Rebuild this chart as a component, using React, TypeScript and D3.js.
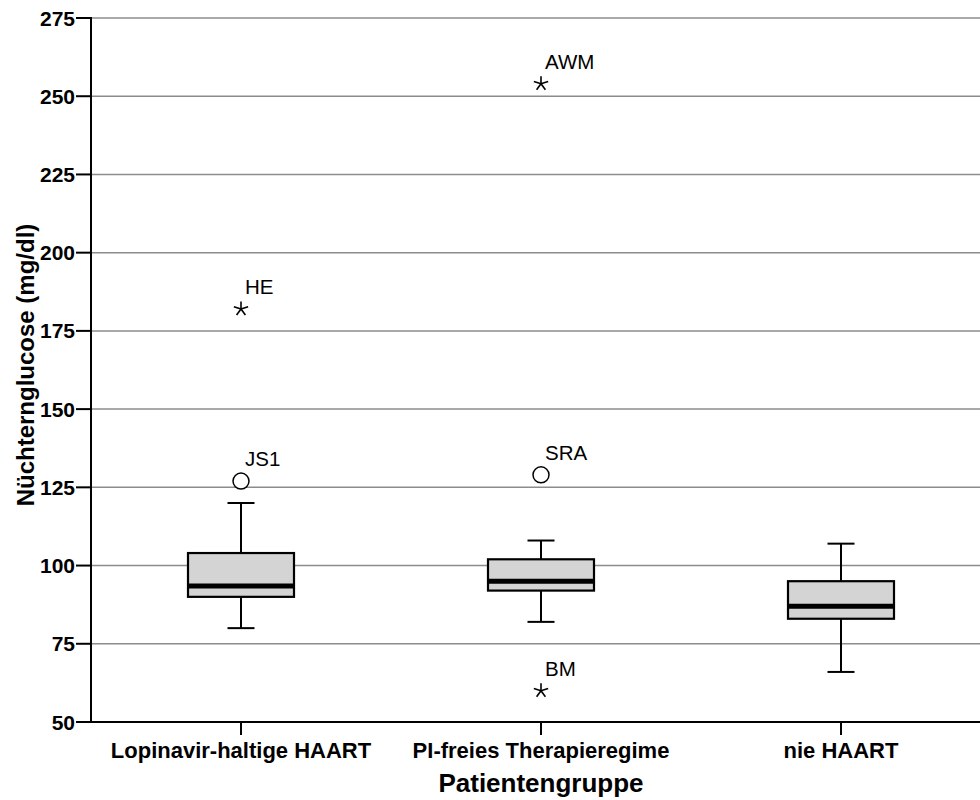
import React from "react";
import * as d3 from "d3";

const categories = ["Lopinavir-haltige HAART", "PI-freies Therapieregime", "nie HAART"];
const whiskerLow = [80, 82, 66];
const q1 = [90, 92, 83];
const median = [93.5, 95, 87];
const q3 = [104, 102, 95];
const whiskerHigh = [120, 108, 107];

// outliers: category index, value, kind, label
const outlierCat = [0, 0, 1, 1, 1];
const outlierValue = [182, 127, 254, 129, 60];
const outlierKind = ["extreme", "outlier", "extreme", "outlier", "extreme"];
const outlierLabel = ["HE", "JS1", "AWM", "SRA", "BM"];

const yTicks = [50, 75, 100, 125, 150, 175, 200, 225, 250, 275];

const W = 980;
const H = 800;
const left = 91;
const top = 18;
const bottom = 722;
const right = 991;

const FONT = "'Liberation Sans', Arial, Helvetica, sans-serif";

function Star({ cx, cy, r }: { cx: number; cy: number; r: number }) {
  const arms = d3.range(5).map((i) => -Math.PI / 2 + (i * 2 * Math.PI) / 5);
  return (
    <g>
      {arms.map((a, i) => (
        <line
          key={i}
          x1={cx}
          y1={cy}
          x2={cx + r * Math.cos(a)}
          y2={cy + r * Math.sin(a)}
          stroke="#000"
          strokeWidth={1.6}
        />
      ))}
    </g>
  );
}

export default function App() {
  const y = d3.scaleLinear().domain([50, 275]).range([bottom, top]);
  const x = d3.scaleBand().domain(categories).range([left, right]);
  const cx = (i: number) => (x(categories[i]) as number) + x.bandwidth() / 2;
  const boxW = 106;
  const capW = 27;

  return (
    <svg
      width={W}
      height={H}
      style={{ position: "absolute", left: 0, top: 0, background: "#fff" }}
      fontFamily={FONT}
    >
      {/* gridlines */}
      {yTicks
        .filter((t) => t !== 50)
        .map((t) => (
          <line key={t} x1={left} x2={W} y1={y(t)} y2={y(t)} stroke="#8c8c8c" strokeWidth={1.5} />
        ))}

      {/* boxes */}
      {categories.map((c, i) => {
        const xc = cx(i);
        return (
          <g key={c}>
            <line x1={xc} x2={xc} y1={y(whiskerHigh[i])} y2={y(q3[i])} stroke="#000" strokeWidth={2} />
            <line x1={xc} x2={xc} y1={y(q1[i])} y2={y(whiskerLow[i])} stroke="#000" strokeWidth={2} />
            <line x1={xc - capW / 2} x2={xc + capW / 2} y1={y(whiskerHigh[i])} y2={y(whiskerHigh[i])} stroke="#000" strokeWidth={2} />
            <line x1={xc - capW / 2} x2={xc + capW / 2} y1={y(whiskerLow[i])} y2={y(whiskerLow[i])} stroke="#000" strokeWidth={2} />
            <rect
              x={xc - boxW / 2}
              y={y(q3[i])}
              width={boxW}
              height={y(q1[i]) - y(q3[i])}
              fill="#d4d4d4"
              stroke="#000"
              strokeWidth={2.2}
            />
            <line x1={xc - boxW / 2} x2={xc + boxW / 2} y1={y(median[i])} y2={y(median[i])} stroke="#000" strokeWidth={5} />
          </g>
        );
      })}

      {/* outliers */}
      {outlierValue.map((v, k) => {
        const xc = cx(outlierCat[k]);
        const yy = y(v);
        return (
          <g key={k}>
            {outlierKind[k] === "extreme" ? (
              <Star cx={xc} cy={yy} r={7.5} />
            ) : (
              <circle cx={xc} cy={yy} r={8} fill="#fff" stroke="#000" strokeWidth={1.5} />
            )}
            <text x={xc + 4} y={yy - 15} fontSize={20.5} fill="#000">
              {outlierLabel[k]}
            </text>
          </g>
        );
      })}

      {/* y axis */}
      <line x1={left} x2={left} y1={top - 1} y2={bottom + 1} stroke="#000" strokeWidth={2} />
      {yTicks.map((t) => (
        <g key={t}>
          <line x1={76} x2={left} y1={y(t)} y2={y(t)} stroke="#000" strokeWidth={2} />
          <text x={75} y={y(t)} dy="0.36em" textAnchor="end" fontSize={21} fontWeight="bold">
            {t}
          </text>
        </g>
      ))}

      {/* x axis */}
      <line x1={left - 1} x2={W} y1={bottom} y2={bottom} stroke="#000" strokeWidth={2} />
      {categories.map((c, i) => (
        <g key={c}>
          <line x1={cx(i)} x2={cx(i)} y1={bottom} y2={735} stroke="#000" strokeWidth={2} />
          <text x={cx(i)} y={758} textAnchor="middle" fontSize={22} fontWeight="bold">
            {c}
          </text>
        </g>
      ))}

      <text x={541} y={792} textAnchor="middle" fontSize={26} fontWeight="bold">
        Patientengruppe
      </text>
      <text
        transform={`translate(34,365) rotate(-90)`}
        textAnchor="middle"
        fontSize={24}
        fontWeight="bold"
      >
        Nüchternglucose (mg/dl)
      </text>
    </svg>
  );
}
